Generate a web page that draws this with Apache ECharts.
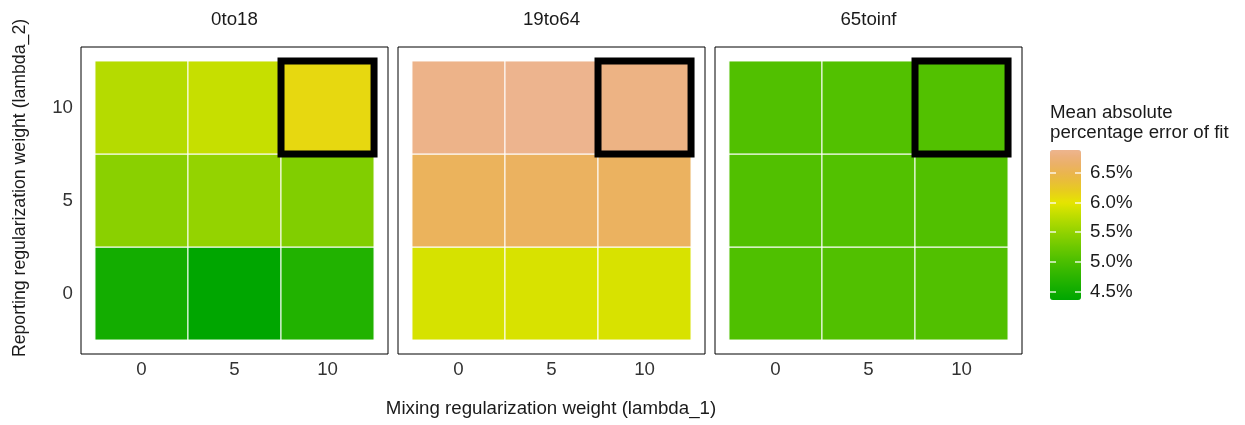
<!DOCTYPE html>
<html>
<head>
<meta charset="utf-8">
<script src="https://cdn.jsdelivr.net/npm/echarts@6/dist/echarts.min.js"></script>
<style>
  html, body { margin: 0; padding: 0; background: #fff; }
  #myChart { width: 1245px; height: 425px; }
</style>
</head>
<body>
<div id="myChart"></div>
<script>
// tuning grid values
var lambda1 = [0, 5, 10];   // mixing weight (x)
var lambda2 = [0, 5, 10];   // reporting weight (y)
var ageGroups = ['0to18', '19to64', '65toinf'];

// mean absolute percentage error (%), rows = lambda2 0,5,10 ; cols = lambda1 0,5,10
var mape0to18 = [
  [4.54, 4.36, 4.66],
  [5.45, 5.51, 5.39],
  [5.72, 5.82, 6.10]
];
var mape19to64 = [
  [5.91, 5.92, 5.92],
  [6.58, 6.60, 6.60],
  [6.85, 6.88, 6.82]
];
var mape65toinf = [
  [5.04, 5.05, 5.05],
  [5.05, 5.06, 5.05],
  [5.05, 5.06, 5.06]
];
var selected = [10, 10];   // chosen (lambda1, lambda2)

var legendTicks = [4.5, 5.0, 5.5, 6.0, 6.5];
var colorMin = 4.36;
var colorMax = 6.88;

var allMape = [mape0to18, mape19to64, mape65toinf];

// terrain.colors style ramp: green -> yellow -> tan
function hsv(h, s, v) {
  var i = Math.floor(h * 6), f = h * 6 - i;
  var p = v * (1 - s), q = v * (1 - f * s), t = v * (1 - (1 - f) * s);
  var r, g, b;
  switch (((i % 6) + 6) % 6) {
    case 0: r = v; g = t; b = p; break;
    case 1: r = q; g = v; b = p; break;
    case 2: r = p; g = v; b = t; break;
    case 3: r = p; g = q; b = v; break;
    case 4: r = t; g = p; b = v; break;
    default: r = v; g = p; b = q;
  }
  function hx(c) { var s = Math.round(c * 255).toString(16); return s.length < 2 ? '0' + s : s; }
  return '#' + hx(r) + hx(g) + hx(b);
}
var yellowAt = 6.0;
function terrain(val) {
  if (val <= yellowAt) {
    var t = (val - colorMin) / (yellowAt - colorMin);
    return hsv(1 / 3 - t / 6, 1, 0.65 + 0.25 * t);
  }
  var u = (val - yellowAt) / (colorMax - yellowAt) * 0.6;
  return hsv((1 - u) / 6, 1 - u, 0.9 + 0.05 * u);
}
var rampColors = [];
for (var k = 0; k <= 50; k++) {
  rampColors.push(terrain(colorMin + (colorMax - colorMin) * k / 50));
}

var font = 'Liberation Sans, Arial, sans-serif';
var fs = 18.7;
var panelLeft = [81, 398, 715];

function renderTile(params, api) {
  var c = api.coord([api.value(0), api.value(1)]);
  var s = api.size([5, 5]);
  return {
    type: 'rect',
    shape: { x: c[0] - s[0] / 2, y: c[1] - s[1] / 2, width: s[0], height: s[1] },
    style: { fill: api.visual('color'), stroke: '#fff', lineWidth: 1 }
  };
}
function renderSelected(params, api) {
  var c = api.coord([api.value(0), api.value(1)]);
  var s = api.size([5, 5]);
  return {
    type: 'rect',
    shape: { x: c[0] - s[0] / 2, y: c[1] - s[1] / 2, width: s[0], height: s[1] },
    style: { fill: 'none', stroke: '#000', lineWidth: 7 }
  };
}

var grids = [], xAxes = [], yAxes = [], series = [], titles = [];
ageGroups.forEach(function (g, i) {
  grids.push({ left: panelLeft[i], top: 47, width: 307, height: 307, show: true,
               borderColor: '#000', borderWidth: 1, backgroundColor: '#fff' });
  xAxes.push({
    gridIndex: i, type: 'value', min: -3.25, max: 13.25,
    axisLine: { show: false }, splitLine: { show: false },
    axisTick: { show: true, inside: true, length: 14, customValues: lambda1, lineStyle: { color: '#555' } },
    axisLabel: { customValues: lambda1, margin: 6, fontSize: fs, color: '#333', fontFamily: font }
  });
  yAxes.push({
    gridIndex: i, type: 'value', min: -3.25, max: 13.25,
    axisLine: { show: false }, splitLine: { show: false },
    axisTick: { show: i === 0, inside: true, length: 14, customValues: lambda2, lineStyle: { color: '#555' } },
    axisLabel: { show: i === 0, customValues: lambda2, margin: 8, fontSize: fs, color: '#333', fontFamily: font }
  });
  var data = [];
  allMape[i].forEach(function (row, r) {
    row.forEach(function (v, c) { data.push([lambda1[c], lambda2[r], v]); });
  });
  series.push({ type: 'custom', name: g, xAxisIndex: i, yAxisIndex: i, renderItem: renderTile,
                data: data, encode: { x: 0, y: 1 }, z: 2 });
  titles.push({ text: g, left: panelLeft[i] + 153.5, top: 10, textAlign: 'center', padding: 0,
                textStyle: { fontSize: fs, fontWeight: 'normal', color: '#1a1a1a', fontFamily: font } });
});
ageGroups.forEach(function (g, i) {
  series.push({ type: 'custom', name: g + ' selected', xAxisIndex: i, yAxisIndex: i,
                renderItem: renderSelected, data: [selected], encode: { x: 0, y: 1 }, z: 5 });
});

// legend colourbar tick axes
grids.push({ left: 1050, top: 150, width: 31, height: 150, show: false });
xAxes.push({ gridIndex: 3, type: 'value', show: false, min: 0, max: 1 });
var legendTick = { show: true, inside: true, length: 6, customValues: legendTicks,
                   lineStyle: { color: 'rgba(255,255,255,0.85)', width: 1.5 } };
yAxes.push({ gridIndex: 3, type: 'value', position: 'left', min: colorMin, max: colorMax, z: 10,
             axisLine: { show: false }, splitLine: { show: false }, axisTick: legendTick,
             axisLabel: { show: false } });
yAxes.push({ gridIndex: 3, type: 'value', position: 'right', min: colorMin, max: colorMax, z: 10,
             axisLine: { show: false }, splitLine: { show: false }, axisTick: legendTick,
             axisLabel: { customValues: legendTicks, margin: 9, fontSize: fs, color: '#1a1a1a', fontFamily: font,
                          formatter: function (v) { return v.toFixed(1) + '%'; } } });

var option = {
  backgroundColor: '#fff',
  animation: false,
  title: titles,
  grid: grids,
  xAxis: xAxes,
  yAxis: yAxes,
  visualMap: {
    type: 'continuous', min: colorMin, max: colorMax, dimension: 2, seriesIndex: [0, 1, 2],
    left: 1050, top: 150, itemWidth: 31, itemHeight: 150, padding: 0,
    text: null, calculable: false, hoverLink: false,
    inRange: { color: rampColors }
  },
  graphic: [
    { type: 'text', x: 551, y: 409,
      style: { text: 'Mixing regularization weight (lambda_1)', fontSize: fs, fill: '#1a1a1a', fontFamily: font,
               align: 'center', verticalAlign: 'middle' } },
    { type: 'text', x: 20, y: 188, rotation: Math.PI / 2,
      style: { text: 'Reporting regularization weight (lambda_2)', fontSize: 17.7, fill: '#1a1a1a', fontFamily: font,
               align: 'center', verticalAlign: 'middle' } },
    { type: 'text', x: 1050, y: 103,
      style: { text: 'Mean absolute\npercentage error of fit', fontSize: fs, lineHeight: 20, fill: '#1a1a1a', fontFamily: font,
               align: 'left', verticalAlign: 'top' } }
  ],
  series: series
};

var myChart = echarts.init(document.getElementById('myChart'));
myChart.setOption(option);
</script>
</body>
</html>
